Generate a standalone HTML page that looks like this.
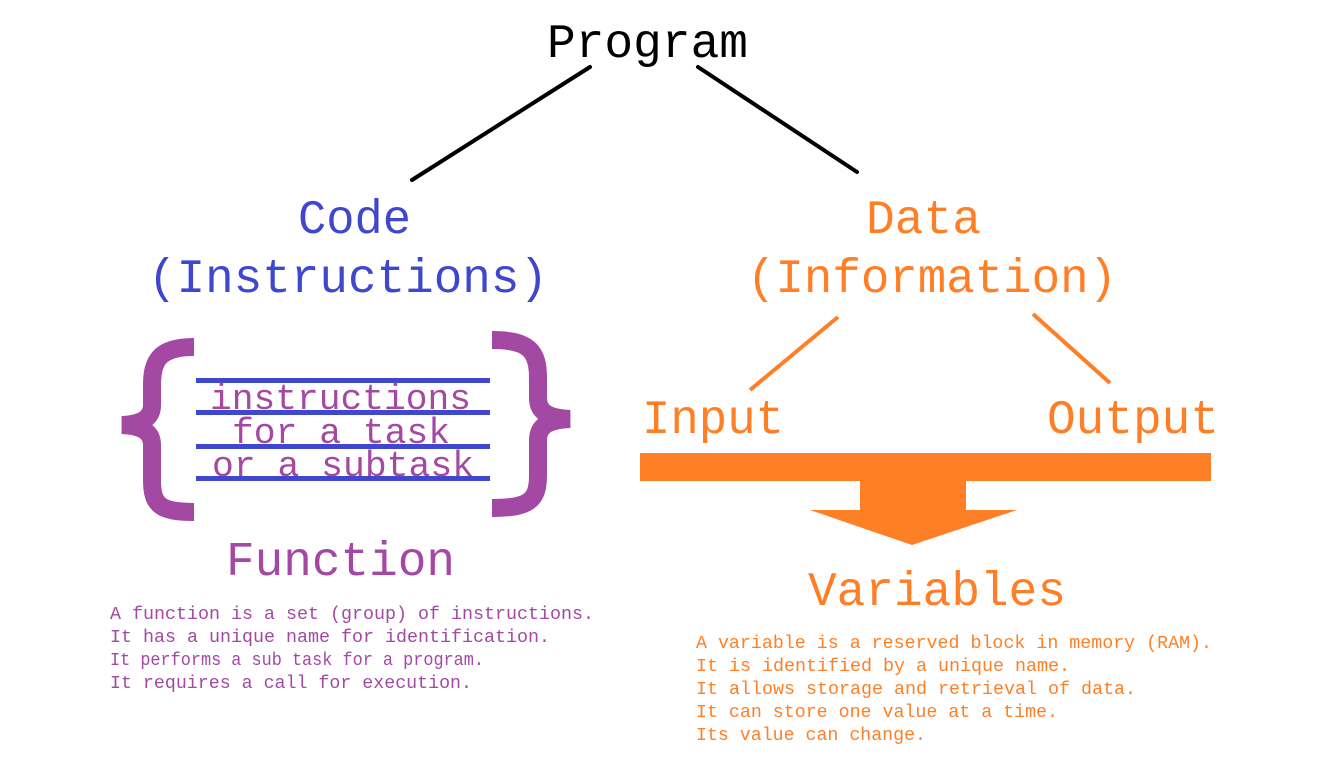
<!DOCTYPE html>
<html><head><meta charset="utf-8"><style>
html,body{margin:0;padding:0;background:#fff;width:1342px;height:779px;overflow:hidden}
svg{display:block}
text{font-family:"Liberation Mono","DejaVu Sans Mono",monospace}
</style></head><body>
<svg width="1342" height="779" viewBox="0 0 1342 779" xmlns="http://www.w3.org/2000/svg">
<rect width="1342" height="779" fill="#fff"/>
<g stroke="#000" stroke-width="4" stroke-linecap="round">
<line x1="412" y1="180" x2="590" y2="67"/>
<line x1="698" y1="67" x2="857" y2="172"/>
</g>
<g stroke="#ff7f27" stroke-width="4">
<line x1="750" y1="390" x2="838" y2="317"/>
<line x1="1033" y1="314" x2="1110" y2="383"/>
</g>
<text x="547" y="57" font-size="48" fill="#000" textLength="201" lengthAdjust="spacingAndGlyphs">Program</text>
<text x="298" y="233" font-size="48" fill="#3f48cc" textLength="113" lengthAdjust="spacingAndGlyphs">Code</text>
<text x="148" y="292" font-size="48" fill="#3f48cc" textLength="400" lengthAdjust="spacingAndGlyphs">(Instructions)</text>
<text x="866" y="233" font-size="48" fill="#ff7f27" textLength="115" lengthAdjust="spacingAndGlyphs">Data</text>
<text x="747" y="292" font-size="48" fill="#ff7f27" textLength="370" lengthAdjust="spacingAndGlyphs">(Information)</text>
<text x="642" y="433" font-size="48" fill="#ff7f27" textLength="142" lengthAdjust="spacingAndGlyphs">Input</text>
<text x="1047" y="433" font-size="48" fill="#ff7f27" textLength="172" lengthAdjust="spacingAndGlyphs">Output</text>
<!-- braces -->
<g fill="none" stroke="#a349a4" stroke-width="18">
<path d="M194 347 C160 347 152 360 152 385 L152 405 C152 418 142 424 122 425 C142 426 152 432 152 445 L152 480 C152 505 160 512 194 512"/>
<path d="M492 340 C530 340 538 352 538 378 L538 398 C538 412 548 418 570 419 C548 420 538 426 538 440 L538 475 C538 500 530 508 492 508"/>
</g>
<g fill="#3f48cc">
<rect x="196" y="378" width="294" height="5"/>
<rect x="196" y="410" width="294" height="5"/>
<rect x="196" y="444" width="294" height="5"/>
<rect x="196" y="476" width="294" height="5"/>
</g>
<g fill="#a349a4" font-size="36">
<text x="210" y="409" textLength="261" lengthAdjust="spacingAndGlyphs">instructions</text>
<text x="232" y="443" textLength="218" lengthAdjust="spacingAndGlyphs">for a task</text>
<text x="212" y="476" textLength="262" lengthAdjust="spacingAndGlyphs">or a subtask</text>
</g>
<text x="226" y="575" font-size="48" fill="#a349a4" textLength="229" lengthAdjust="spacingAndGlyphs">Function</text>
<g fill="#a349a4" font-size="18">
<text x="110" y="619" textLength="484" lengthAdjust="spacingAndGlyphs">A function is a set (group) of instructions.</text>
<text x="110" y="642" textLength="440" lengthAdjust="spacingAndGlyphs">It has a unique name for identification.</text>
<text x="110" y="665" textLength="374" lengthAdjust="spacingAndGlyphs">It performs a sub task for a program.</text>
<text x="110" y="688" textLength="362" lengthAdjust="spacingAndGlyphs">It requires a call for execution.</text>
</g>
<!-- arrow -->
<g fill="#ff7f27">
<rect x="640" y="453" width="571" height="28"/>
<rect x="860" y="480" width="106" height="32"/>
<polygon points="810,510 1017,510 912,545"/>
</g>
<text x="808" y="605" font-size="48" fill="#ff7f27" textLength="258" lengthAdjust="spacingAndGlyphs">Variables</text>
<g fill="#ff7f27" font-size="18">
<text x="696" y="648" textLength="516" lengthAdjust="spacingAndGlyphs">A variable is a reserved block in memory (RAM).</text>
<text x="696" y="671" textLength="374" lengthAdjust="spacingAndGlyphs">It is identified by a unique name.</text>
<text x="696" y="694" textLength="440" lengthAdjust="spacingAndGlyphs">It allows storage and retrieval of data.</text>
<text x="696" y="717" textLength="362" lengthAdjust="spacingAndGlyphs">It can store one value at a time.</text>
<text x="696" y="740" textLength="230" lengthAdjust="spacingAndGlyphs">Its value can change.</text>
</g>
</svg>
</body></html>
